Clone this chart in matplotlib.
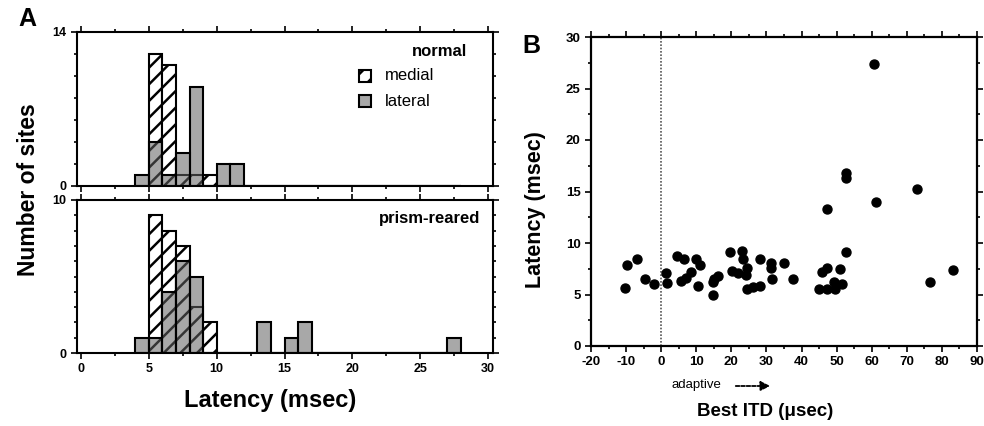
import numpy as np
import matplotlib
matplotlib.use("Agg")
import matplotlib.pyplot as plt
from matplotlib.patches import Rectangle
from matplotlib.ticker import MultipleLocator

plt.rcParams['font.family'] = ['Liberation Sans', 'DejaVu Sans']
plt.rcParams['hatch.linewidth'] = 1.8
plt.rcParams['axes.unicode_minus'] = False

# ---------------- data ----------------
bins = [4, 5, 6, 7, 8, 9, 10, 11, 12, 13, 14, 15, 16, 17, 18, 19, 20, 21, 22, 23, 24, 25, 26, 27]
normal_medial  = [0, 12, 11, 1, 1, 1, 0, 0, 0, 0, 0, 0, 0, 0, 0, 0, 0, 0, 0, 0, 0, 0, 0, 0]
normal_lateral = [1, 4, 1, 3, 9, 0, 2, 2, 0, 0, 0, 0, 0, 0, 0, 0, 0, 0, 0, 0, 0, 0, 0, 0]
prism_medial   = [0, 9, 8, 7, 3, 2, 0, 0, 0, 0, 0, 0, 0, 0, 0, 0, 0, 0, 0, 0, 0, 0, 0, 0]
prism_lateral  = [1, 1, 4, 6, 5, 0, 0, 0, 0, 2, 0, 1, 2, 0, 0, 0, 0, 0, 0, 0, 0, 0, 0, 1]

best_itd = [-10.2, -9.8, -7.0, -4.5, -2.1, 1.3, 1.7, 4.6, 6.5, 5.6, 7.2, 8.4, 9.9, 11.0,
            10.4, 14.7, 14.7, 15.0, 16.2, 19.6, 20.1, 22.0, 22.9, 23.4, 24.1, 24.5, 24.4,
            26.2, 28.3, 28.3, 31.2, 31.2, 31.7, 35.1, 37.5, 45.0, 45.7, 47.2, 47.2, 47.2,
            49.2, 49.5, 51.1, 51.6, 52.8, 52.8, 52.8, 60.7, 61.1, 72.8, 76.6, 83.3]
latency = [5.6, 7.9, 8.4, 6.5, 6.0, 7.1, 6.1, 8.7, 8.4, 6.3, 6.6, 7.2, 8.4, 7.9,
           5.8, 5.0, 6.2, 6.5, 6.8, 9.1, 7.3, 7.1, 9.2, 8.4, 6.9, 7.6, 5.5,
           5.7, 5.8, 8.4, 8.1, 7.6, 6.5, 8.1, 6.5, 5.5, 7.2, 13.3, 7.6, 5.5,
           6.2, 5.5, 7.5, 6.0, 16.8, 16.3, 9.1, 27.4, 14.0, 15.2, 6.2, 7.4]

# ---------------- figure ----------------
W, H = 984, 426
fig = plt.figure(figsize=(W / 100, H / 100), dpi=100)

def rect(l, t, r, b):
    return [l / W, (H - b) / H, (r - l) / W, (b - t) / H]

ax_top = fig.add_axes(rect(77, 32, 493, 186))
ax_bot = fig.add_axes(rect(77, 200, 493, 353))
ax_b = fig.add_axes(rect(591, 37, 977, 346))

LATERAL_FACE = (0.38, 0.38, 0.38, 0.55)
bold = dict(fontweight='bold')

def style_axes(ax, lw=1.5):
    for s in ax.spines.values():
        s.set_linewidth(lw)
    ax.tick_params(which='both', direction='out', top=True, right=True, width=1.2)
    ax.tick_params(which='major', length=4)
    ax.tick_params(which='minor', length=2.5)

def hist_panel(ax, medial, lateral, ymax, minor):
    ax.bar(bins, medial, width=1.0, align='edge', facecolor='white',
           edgecolor='black', hatch='//', linewidth=1.5, zorder=2)
    ax.bar(bins, lateral, width=1.0, align='edge', facecolor=LATERAL_FACE,
           edgecolor='black', linewidth=1.5, zorder=3)
    ax.set_xlim(-0.3, 30.37)
    ax.set_ylim(0, ymax)
    ax.set_yticks([0, ymax])
    ax.yaxis.set_minor_locator(MultipleLocator(minor))
    ax.xaxis.set_major_locator(MultipleLocator(5))
    ax.xaxis.set_minor_locator(MultipleLocator(2.5))
    style_axes(ax)
    for lab in ax.get_yticklabels():
        lab.set_fontweight('bold')
        lab.set_fontsize(9)

hist_panel(ax_top, normal_medial, normal_lateral, 14, 2)
hist_panel(ax_bot, prism_medial, prism_lateral, 10, 1)
ax_top.tick_params(labelbottom=False)
for lab in ax_bot.get_xticklabels():
    lab.set_fontweight('bold')
    lab.set_fontsize(9)

# legend in top panel (drawn manually, in pixel positions)
def px_to_axes(ax, x, y):
    l, b = 77, 186
    return (x - l) / 416, (b - y) / 154

tx, ty = px_to_axes(ax_top, 440, 51)
ax_top.text(tx, ty, 'normal', transform=ax_top.transAxes, ha='center',
            va='center', fontsize=12, **bold)
for yy, lab, face, hatch in [(76, 'medial', 'white', '//'),
                             (101, 'lateral', LATERAL_FACE, None)]:
    x0, y0 = px_to_axes(ax_top, 359, yy + 6)
    ax_top.add_patch(Rectangle((x0, y0), 12 / 416, 12 / 154, transform=ax_top.transAxes,
                               facecolor=face, edgecolor='black', hatch=hatch,
                               linewidth=1.5, clip_on=False, zorder=4))
    lx, ly = px_to_axes(ax_top, 385, yy)
    ax_top.text(lx, ly, lab, transform=ax_top.transAxes, ha='left', va='center',
                fontsize=12)

ax_bot.text(0.97, 0.88, 'prism-reared', transform=ax_bot.transAxes, ha='right',
            va='center', fontsize=12, **bold)

fig.text(29 / W, 1 - 190 / H, 'Number of sites', rotation=90, ha='center',
         va='center', fontsize=16.5, **bold)
fig.text(270 / W, 1 - 401 / H, 'Latency (msec)', ha='center', va='center',
         fontsize=17, **bold)
fig.text(27 / W, 1 - 19 / H, 'A', ha='center', va='center', fontsize=18, **bold)

# ---------------- panel B ----------------
ax_b.scatter(best_itd, latency, s=42, color='black', zorder=3)
ax_b.axvline(0, color='#555555', linestyle=(0, (1, 1)), linewidth=1.2, zorder=1)
ax_b.set_xlim(-20, 90)
ax_b.set_ylim(0, 30)
ax_b.xaxis.set_major_locator(MultipleLocator(10))
ax_b.xaxis.set_minor_locator(MultipleLocator(5))
ax_b.yaxis.set_major_locator(MultipleLocator(5))
ax_b.yaxis.set_minor_locator(MultipleLocator(2.5))
style_axes(ax_b, lw=1.6)
for lab in ax_b.get_xticklabels() + ax_b.get_yticklabels():
    lab.set_fontweight('bold')
    lab.set_fontsize(9.5)

fig.text(536 / W, 1 - 210 / H, 'Latency (msec)', rotation=90, ha='center',
         va='center', fontsize=15.5, **bold)
fig.text(765 / W, 1 - 411 / H, 'Best ITD (\u03bcsec)', ha='center', va='center',
         fontsize=13.5, **bold)
fig.text(696 / W, 1 - 385 / H, 'adaptive', ha='center', va='center', fontsize=9.5)
fig.add_artist(matplotlib.patches.FancyArrowPatch(
    (733 / W, 1 - 386 / H), (773 / W, 1 - 386 / H), transform=fig.transFigure,
    arrowstyle='-|>', mutation_scale=14, linestyle=(0, (2, 1)), linewidth=1.3,
    color='black'))
fig.text(531 / W, 1 - 46 / H, 'B', ha='center', va='center', fontsize=18, **bold)

fig.savefig('out.png', dpi=100)
